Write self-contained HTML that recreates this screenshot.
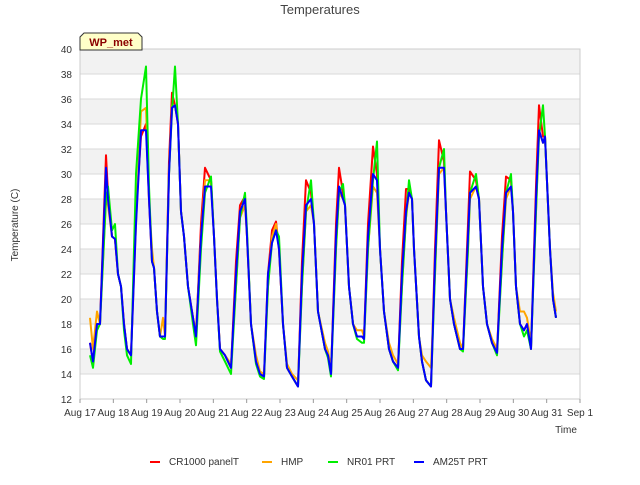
<!DOCTYPE html>
<html><head><meta charset="utf-8"><style>
body{margin:0;background:#fff;}
svg{font-family:"Liberation Sans",sans-serif;}
</style></head><body>
<svg id="chart" width="640" height="480">
<text x="320" y="14" text-anchor="middle" font-size="13" fill="#444">Temperatures</text>
<g id="plot"></g>
<text transform="translate(18,225) rotate(-90)" text-anchor="middle" font-size="10" fill="#333">Temperature (C)</text>
<text x="566" y="433" text-anchor="middle" font-size="10" fill="#333">Time</text>
<g>
<path d="M80,50 L80,37 L84,33 L138,33 L142,37 L142,50 Z" fill="#ffffc8" stroke="#333" stroke-width="1"/>
<text x="111" y="46" text-anchor="middle" font-size="11" font-weight="bold" fill="#8b0000">WP_met</text>
</g>
<g id="legend"></g>
</svg>
<script>
const dayTicks=["Aug 17","Aug 18","Aug 19","Aug 20","Aug 21","Aug 22","Aug 23","Aug 24","Aug 25","Aug 26","Aug 27","Aug 28","Aug 29","Aug 30","Aug 31","Sep 1"];
const yTicks=[12,14,16,18,20,22,24,26,28,30,32,34,36,38,40];
const times=[0.30,0.39,0.51,0.60,0.78,0.84,0.96,1.05,1.14,1.23,1.32,1.41,1.53,1.68,1.83,1.98,2.07,2.16,2.22,2.31,2.40,2.49,2.55,2.67,2.76,2.85,2.94,3.03,3.12,3.24,3.39,3.48,3.63,3.75,3.93,4.02,4.11,4.20,4.35,4.53,4.68,4.80,4.95,5.01,5.13,5.28,5.40,5.52,5.64,5.76,5.88,5.97,6.09,6.21,6.36,6.54,6.66,6.78,6.93,7.02,7.14,7.35,7.44,7.53,7.68,7.77,7.89,7.95,8.07,8.19,8.31,8.46,8.52,8.64,8.79,8.91,9.00,9.12,9.27,9.39,9.54,9.66,9.78,9.87,9.96,10.02,10.17,10.26,10.38,10.53,10.65,10.77,10.92,10.98,11.10,11.22,11.40,11.49,11.64,11.70,11.88,11.97,12.09,12.21,12.36,12.51,12.66,12.78,12.93,12.99,13.08,13.20,13.32,13.41,13.53,13.68,13.77,13.89,13.95,14.10,14.19,14.28];
const hmp=[18.5,16,19,18,28,27.5,25,24.8,22,21,18,16,15.5,26,35,35.3,28,24,22.5,19,17,18.5,17,30,35.5,35.5,34,27,25,21,18.5,17.5,25,29.5,29.5,25,20,16,15.5,14.8,21,26.5,27.5,25,18,15.5,14.2,14,21,25,26,24,18,14.8,14,13.5,21,27,27.5,26,19,16.5,15.8,14.5,24,28.5,28,27.5,21,18,17.5,17.5,17,24,29,28.5,24,19,16.5,15.5,14.8,21,26.5,28.5,28,24,17,15.5,15,14.5,22,30,30.5,27,20,18.5,16.5,16,24,28,29,28,21,18,16.8,16,23,28,29,27,21,19,19,18.5,16.5,27,33.5,32.5,33,24,20.5,19];
const cr1000=[16.5,15,18,18,31.5,28.5,25,24.8,22,21,18,16,15.5,27,33,34,28,23,22.5,19,17,17,17,31,36.5,35.5,34,27,25,21,18.5,17,26,30.5,29.5,25,20,16,15.5,14.5,23,27.5,28.2,25,18,15,14,13.8,22,25.5,26.2,24,18,14.5,13.8,13,23,29.5,28.5,26,19,16,15.5,14,26,30.5,28.5,27.5,21,18,17,17,16.8,26,32.2,30,24,19,16,15,14.5,23,28.8,28.8,28,24,17,15,13.5,13,24,32.7,31,27,20,18,16,16,26,30.2,29.5,28,21,18,16.5,15.7,25,29.8,29.5,27,21,18,17.5,18,16,29,35.5,33,33,24,20,18.5];
const nr01=[15.5,14.5,17.5,18,28,29,25.5,26,22,21,17.5,15.5,14.8,30,36,38.6,29,23,22.5,19,17,16.8,16.8,30,35,38.6,34,27,25,21,18,16.3,24,28.5,29.8,25,20,15.8,15,14,21,26.5,28.5,25.5,18,14.8,13.8,13.6,21,24.5,25.5,25,18,14.5,13.8,13,21,27,29.5,26,19,16,15.3,13.8,24,28.5,29.2,27.5,21,18,16.8,16.5,16.5,24,29.5,32.6,24,19,16,15,14.3,21,26.5,29.5,28,24,17,15,13.5,13,22,30.5,32,27,20,18,16,15.8,24,28.5,30,28,21,18,16.5,15.5,23,28.5,30,27,21,18,17,17.5,16,27,33,35.5,33,24,20,18.5];
const am25t=[16.5,15,18,18,30.5,28,25,24.8,22,21,18,16,15.5,26,33.5,33.5,28,23,22.5,19,17,17,17,30,35.3,35.5,34,27,25,21,18.5,17,25,29,29,25,20,16,15.5,14.5,22,27,28,25,18,15,14,13.8,22,24.5,25.5,24,18,14.5,13.8,13,22,27.5,28,26,19,16,15.5,14,25,29,28,27.5,21,18,17,17,16.8,25,30,29.5,24,19,16,15,14.5,22,27,28.5,28,24,17,15,13.5,13,23,30.5,30.5,27,20,18,16,16,25,28.5,29,28,21,18,16.5,15.7,24,28.5,29,27,21,18,17.5,18,16,28,33.5,32.5,33,24,20,18.5];
const seriesNames=["CR1000 panelT","HMP","NR01 PRT","AM25T PRT"];

const NS="http://www.w3.org/2000/svg";
const L=80,R=580,T=49,B=399;
const xS=d=>L+(R-L)*d/15;
const yS=v=>B-(B-T)*(v-12)/28;
const plot=document.getElementById('plot');
function mk(tag,attrs,parent){const e=document.createElementNS(NS,tag);for(const k in attrs)e.setAttribute(k,attrs[k]);(parent||plot).appendChild(e);return e;}
// bands
for(let i=0;i<yTicks.length-1;i++){
  if(i%2===1){const b=mk('rect',{x:L,y:yS(yTicks[i+1]),width:R-L,height:yS(yTicks[i])-yS(yTicks[i+1]),fill:'#f2f2f2'});
  
  }
}
yTicks.forEach(v=>{
  const g=mk('line',{x1:L,x2:R,y1:yS(v),y2:yS(v),stroke:'#dadada','stroke-width':1});
  
  
  const t=mk('text',{x:L-8,y:yS(v)+4,'text-anchor':'end','font-size':10,fill:'#333'});t.textContent=v;
  
  
});
const frame=mk('rect',{x:L,y:T,width:R-L,height:B-T,fill:'none',stroke:'#ccc'});


dayTicks.forEach((s,i)=>{
  mk('line',{x1:xS(i),x2:xS(i),y1:B,y2:B+4,stroke:'#999'});
  const t=mk('text',{x:xS(i),y:B+17,'text-anchor':'middle','font-size':10,fill:'#333'});t.textContent=s;
  
  
});
const series=[[cr1000,'#ff0000','cr1000-line'],[hmp,'#ffa500','hmp-line'],[nr01,'#00ee00','nr01-line'],[am25t,'#0000ff','am25t-line']];
series.forEach(([vals,col,name])=>{
  const n=Math.min(vals.length,times.length);
  let d='';for(let i=0;i<n;i++)d+=(i?'L':'M')+xS(times[i]).toFixed(1)+','+yS(vals[i]).toFixed(1);
  const p=mk('path',{d:d,fill:'none',stroke:col,'stroke-width':2,'stroke-linejoin':'round'});
  
  
});
// legend
const lg=document.getElementById('legend');
const lx=[150,262,328,414],cols=['#ff0000','#ffa500','#00ee00','#0000ff'];
seriesNames.forEach((s,i)=>{
  const g=mk('g',{},lg);
  
  
  mk('line',{x1:lx[i],x2:lx[i]+10,y1:462,y2:462,stroke:cols[i],'stroke-width':2},g);
  const t=mk('text',{x:lx[i]+19,y:465,'font-size':10,fill:'#333'},g);t.textContent=s;
});
</script>
</body></html>
